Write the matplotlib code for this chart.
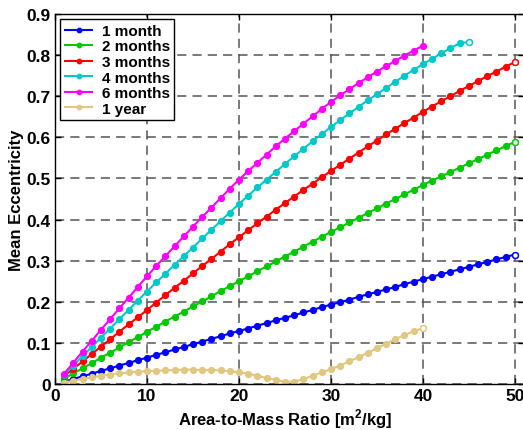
import matplotlib
matplotlib.use("Agg")
import matplotlib.pyplot as plt

plt.rcParams['font.family'] = ['Liberation Sans', 'DejaVu Sans']
plt.rcParams['font.weight'] = 'bold'
plt.rcParams['mathtext.fontset'] = 'custom'
plt.rcParams['mathtext.rm'] = 'Liberation Sans:bold'
plt.rcParams['mathtext.bf'] = 'Liberation Sans:bold'

labels = ['1 month', '2 months', '3 months', '4 months', '6 months', '1 year']
colors = ['#0000ff', '#00c800', '#ff0000', '#00c8c8', '#ff00ff', '#e1c882']
hollow_end = [True, True, True, True, False, True]

x_50 = list(range(1, 51))
x_45 = list(range(1, 46))
x_40 = list(range(1, 41))

e_1m = [0.006, 0.012, 0.019, 0.025, 0.032, 0.038, 0.045, 0.051, 0.058, 0.064,
        0.071, 0.077, 0.084, 0.090, 0.097, 0.103, 0.110, 0.116, 0.123, 0.129,
        0.135, 0.142, 0.148, 0.155, 0.161, 0.167, 0.174, 0.180, 0.187, 0.193,
        0.199, 0.205, 0.212, 0.218, 0.224, 0.230, 0.236, 0.243, 0.249, 0.255,
        0.261, 0.267, 0.273, 0.279, 0.285, 0.291, 0.297, 0.303, 0.309, 0.315]
e_2m = [0.013, 0.026, 0.038, 0.051, 0.064, 0.076, 0.089, 0.102, 0.114, 0.127,
        0.139, 0.152, 0.164, 0.176, 0.189, 0.201, 0.213, 0.226, 0.238, 0.250,
        0.262, 0.274, 0.286, 0.298, 0.310, 0.322, 0.334, 0.346, 0.358, 0.370,
        0.381, 0.393, 0.404, 0.416, 0.427, 0.439, 0.450, 0.461, 0.473, 0.484,
        0.495, 0.505, 0.516, 0.526, 0.537, 0.547, 0.558, 0.568, 0.579, 0.589]
e_3m = [0.020, 0.037, 0.055, 0.073, 0.091, 0.109, 0.127, 0.145, 0.162, 0.180,
        0.198, 0.216, 0.234, 0.251, 0.269, 0.287, 0.304, 0.322, 0.340, 0.357,
        0.374, 0.391, 0.407, 0.424, 0.440, 0.456, 0.472, 0.487, 0.503, 0.518,
        0.533, 0.548, 0.563, 0.578, 0.592, 0.607, 0.621, 0.635, 0.648, 0.662,
        0.675, 0.688, 0.700, 0.713, 0.725, 0.737, 0.749, 0.760, 0.772, 0.783]
e_4m = [0.022, 0.045, 0.068, 0.090, 0.113, 0.135, 0.158, 0.180, 0.203, 0.225,
        0.247, 0.268, 0.290, 0.311, 0.332, 0.354, 0.375, 0.396, 0.417, 0.438,
        0.458, 0.478, 0.497, 0.516, 0.535, 0.554, 0.572, 0.590, 0.608, 0.625,
        0.642, 0.658, 0.674, 0.690, 0.705, 0.720, 0.735, 0.750, 0.764, 0.778,
        0.791, 0.804, 0.817, 0.829, 0.832]
e_6m = [0.025, 0.052, 0.079, 0.105, 0.132, 0.158, 0.184, 0.210, 0.236, 0.262,
        0.287, 0.311, 0.335, 0.359, 0.383, 0.406, 0.429, 0.452, 0.475, 0.497,
        0.518, 0.538, 0.558, 0.578, 0.597, 0.615, 0.633, 0.651, 0.669, 0.686,
        0.702, 0.717, 0.732, 0.746, 0.760, 0.773, 0.786, 0.799, 0.811, 0.823]
e_1y = [0.003, 0.008, 0.012, 0.016, 0.020, 0.023, 0.026, 0.028, 0.030, 0.031,
        0.032, 0.033, 0.034, 0.035, 0.035, 0.034, 0.034, 0.033, 0.031, 0.028,
        0.025, 0.020, 0.015, 0.010, 0.006, 0.006, 0.012, 0.020, 0.028, 0.036,
        0.045, 0.055, 0.065, 0.076, 0.087, 0.098, 0.109, 0.119, 0.128, 0.136]

series = [(x_50, e_1m), (x_50, e_2m), (x_50, e_3m), (x_45, e_4m), (x_40, e_6m), (x_40, e_1y)]

xticks = [0, 10, 20, 30, 40, 50]
yticks = [0, 0.1, 0.2, 0.3, 0.4, 0.5, 0.6, 0.7, 0.8, 0.9]
yticklabels = ['0', '0.1', '0.2', '0.3', '0.4', '0.5', '0.6', '0.7', '0.8', '0.9']

fig = plt.figure(figsize=(5.23, 4.31), dpi=100)
ax = fig.add_axes([55/523, 46/431, 1 - 55/523 + 0.002, (385 - 15)/431])

for (xs, ys), lab, c, h in zip(series, labels, colors, hollow_end):
    ax.plot(xs, ys, '-o', color=c, lw=1.5, ms=4.2, mec=c, mfc=c, label=lab)
    if h:
        ax.plot(xs[-1:], ys[-1:], 'o', color=c, ms=4.2, mec=c, mfc='white', mew=1.0)

ax.set_xlim(0, 51)
ax.set_ylim(0, 0.9)
ax.set_xticks(xticks)
ax.set_yticks(yticks)
ax.set_yticklabels(yticklabels)
ax.tick_params(direction='in', labelsize=12.5, length=4, width=1, top=True, right=True, pad=3)
for t in ax.get_xticklabels() + ax.get_yticklabels():
    t.set_fontweight('bold')
ax.grid(True, color='#555555', linestyle=(0, (6, 4)), linewidth=1.1)
for s in ax.spines.values():
    s.set_linewidth(1.0)

ax.set_xlabel(r'Area-to-Mass Ratio [m$^{2}$/kg]', fontsize=12, fontweight='bold')
ax.xaxis.set_label_coords(0.49, -0.06)
ax.set_ylabel('Mean Eccentricity', fontsize=12, fontweight='bold')
ax.yaxis.set_label_coords(-0.066, 0.5)

leg = ax.legend(loc='upper left', fontsize=11, frameon=True, fancybox=False,
                edgecolor='black', framealpha=1, labelspacing=0.1,
                handlelength=1.8, handletextpad=0.6, markerscale=0.75,
                borderaxespad=0.35, borderpad=0.3)
leg.get_frame().set_linewidth(1.0)
for t in leg.get_texts():
    t.set_fontweight('bold')

fig.savefig('out.png', dpi=100)
